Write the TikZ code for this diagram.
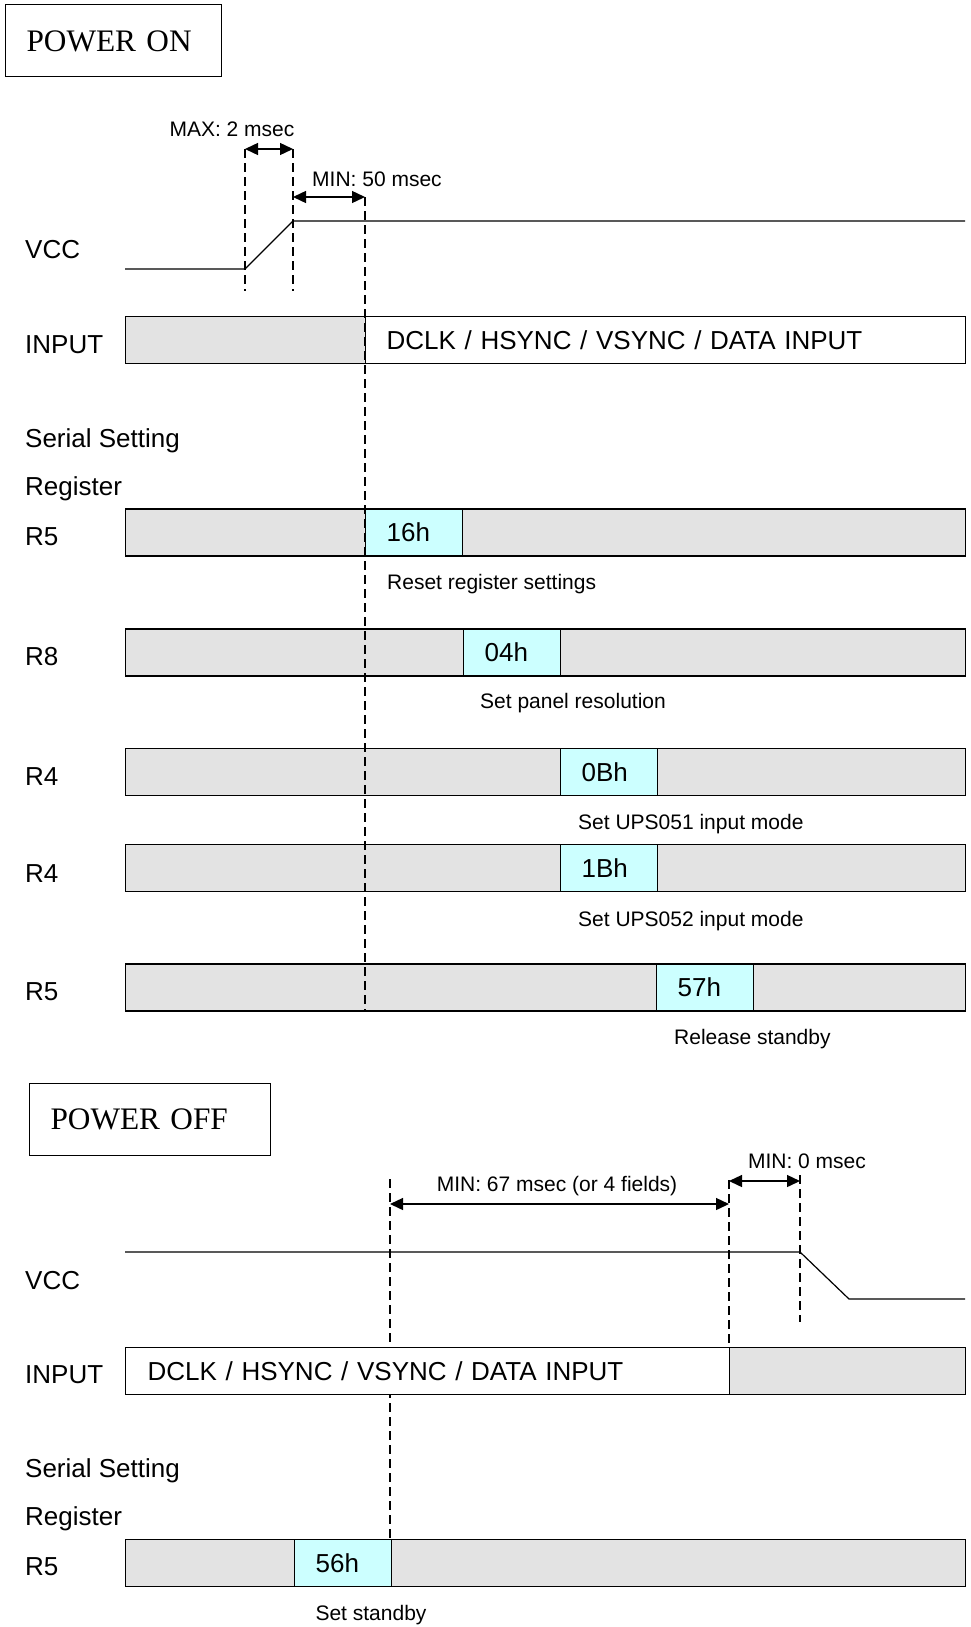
\documentclass[tikz,border=0pt]{standalone}
\usepackage{fontspec}
\setmainfont{Liberation Sans}
\newfontfamily\titlefont{Liberation Serif}
\usetikzlibrary{arrows.meta}
\definecolor{bargray}{RGB}{227,227,227}
\definecolor{cellcyan}{RGB}{204,255,255}
\newcommand{\bigtxt}{\fontsize{26}{30}\selectfont}
\newcommand{\smalltxt}{\fontsize{21}{25}\selectfont}

\begin{document}
\begin{tikzpicture}[x=1pt,y=-1pt,
  lbl/.style={anchor=base west,inner sep=0pt,font=\bigtxt},
  note/.style={anchor=base west,inner sep=0pt,font=\smalltxt},
  title/.style={draw,line width=1pt,anchor=west,inner xsep=21pt,minimum height=72pt,align=left,font=\titlefont\fontsize{31.3}{38}\selectfont},
  bar/.style={draw,line width=1.3pt,fill=bargray,anchor=west,minimum height=47pt,inner sep=0pt},
  cell/.style={bar,fill=cellcyan,minimum width=96.5pt,inner xsep=21pt,text width=54.5pt,align=left,font=\bigtxt},
  guide/.style={line width=1.2pt,dash pattern=on 9pt off 5pt},
  dim/.style={{Triangle[length=13pt,width=12pt]}-{Triangle[length=13pt,width=12pt]},line width=1.4pt},
  wave/.style={line width=1.2pt}]
\useasboundingbox (0,0) rectangle (970,1627);

% power on
\node[title,text width=174pt] (pwron) at (5,41) {POWER ON};
\node[lbl] (vccon) at (25,258) {VCC};
\node[lbl] (inputon) at (25,353) {INPUT};
\node[lbl] (serialon) at (25,447) {Serial Setting};
\node[lbl] (regon) at (25,495) {Register};

\coordinate (rise0) at (245,269);
\coordinate (rise1) at (293,221);
\draw[wave] (125,269) -- (rise0) -- (rise1) -- (965,221);

\coordinate (max0) at (245,149);
\coordinate (max1) at (293,149);
\coordinate (min0) at (293,197);
\coordinate (min1) at (365,197);
\draw[guide] (max0) -- (245,291);
\draw[guide] (max1) -- (293,291);
\draw[dim] (max0) -- (max1);
\node[note,anchor=base] (maxlbl) at (232,137) {MAX: 2 msec};
\draw[dim] (min0) -- (min1);
\node[note] (minlbl) at (312,186) {MIN: 50 msec};

\node[bar,minimum width=240pt] (inon0) at (125,340) {};
\node[bar,fill=white,minimum width=600pt,inner xsep=21pt,text width=558pt,align=left,font=\bigtxt] (inon1) at (365,340) {DCLK / HSYNC / VSYNC / DATA INPUT};

\node[lbl] (lr5a) at (25,545) {R5};
\node[bar,minimum width=840pt] (r5a) at (125,532.5) {};
\node[cell] (c16) at (365,532.5) {16h};
\node[note] (n16) at (387,589) {Reset register settings};

\node[lbl] (lr8) at (25,665) {R8};
\node[bar,minimum width=840pt] (r8) at (125,652.5) {};
\node[cell] (c04) at (463,652.5) {04h};
\node[note] (n04) at (480,708) {Set panel resolution};

\node[lbl] (lr4a) at (25,785) {R4};
\node[bar,minimum width=840pt] (r4a) at (125,772) {};
\node[cell] (c0b) at (560,772) {0Bh};
\node[note] (n0b) at (578,829) {Set UPS051 input mode};

\node[lbl] (lr4b) at (25,882) {R4};
\node[bar,minimum width=840pt] (r4b) at (125,868) {};
\node[cell] (c1b) at (560,868) {1Bh};
\node[note] (n1b) at (578,926) {Set UPS052 input mode};

\node[lbl] (lr5b) at (25,1000) {R5};
\node[bar,minimum width=840pt] (r5b) at (125,987.5) {};
\node[cell] (c57) at (656,987.5) {57h};
\node[note] (n57) at (674,1044) {Release standby};

\draw[guide] (min1) -- (min1 |- r5b.south);

% power off
\node[title,text width=199pt] (pwroff) at (29,1119) {POWER OFF};
\node[lbl] (vccoff) at (25,1289) {VCC};
\node[lbl] (inputoff) at (25,1383) {INPUT};
\node[lbl] (serialoff) at (25,1477) {Serial Setting};
\node[lbl] (regoff) at (25,1525) {Register};

\coordinate (fall0) at (800,1252);
\coordinate (fall1) at (849,1299);
\draw[wave] (125,1252) -- (fall0) -- (fall1) -- (965,1299);

\coordinate (off0) at (390,1204);
\coordinate (off1) at (729,1204);
\coordinate (zero0) at (729,1181);
\coordinate (zero1) at (800,1181);
\coordinate (gd1) at (390,1179);
\coordinate (gd2) at (729,1180);
\coordinate (gd3) at (800,1175);
\draw[guide] (gd1) -- (390,1539);

\node[bar,fill=white,minimum width=604pt,inner xsep=22pt,text width=560pt,align=left,font=\bigtxt] (inoff0) at (125,1371) {DCLK / HSYNC / VSYNC / DATA INPUT};
\node[bar,minimum width=236pt] (inoff1) at (729,1371) {};

\node[lbl] (lr5c) at (25,1575) {R5};
\node[bar,minimum width=840pt] (r5c) at (125,1563) {};
\node[cell,minimum width=96pt] (c56) at (294,1563) {56h};
\node[note,anchor=base] (n56) at (371,1620) {Set standby};

\draw[guide] (gd2) -- (gd2 |- inoff0.north);
\draw[guide] (gd3) -- (800,1322);
\draw[dim] (off0) -- (off1);
\node[note,anchor=base] (offlbl) at (557,1191) {MIN: 67 msec (or 4 fields)};
\draw[dim] (zero0) -- (zero1);
\node[note,anchor=base] (zerolbl) at (807,1168) {MIN: 0 msec};
\end{tikzpicture}
\end{document}
